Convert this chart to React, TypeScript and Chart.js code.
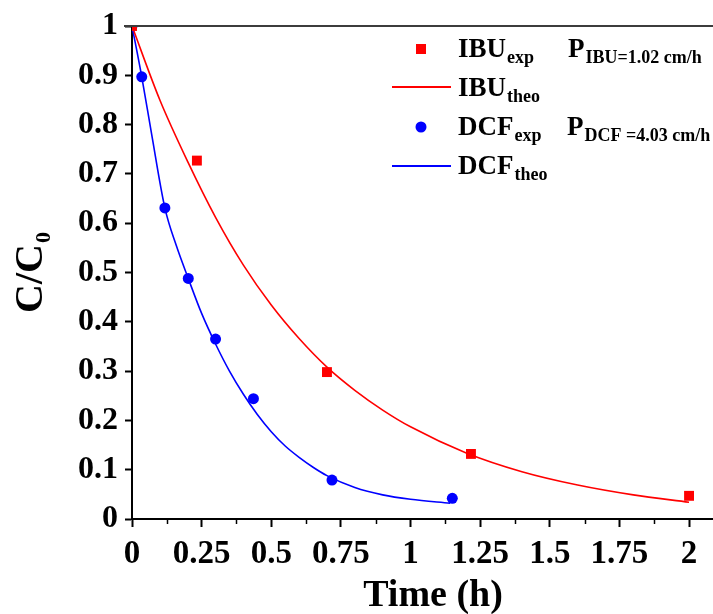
import React, { useEffect, useRef } from "react";
import { Chart, registerables } from "chart.js";

Chart.register(...registerables);

// Experimental data
const ibuExpX = [0, 0.233, 0.7, 1.217, 2.0];
const ibuExpY = [1, 0.727, 0.298, 0.132, 0.047];
const dcfExpX = [0, 0.035, 0.118, 0.202, 0.3, 0.436, 0.718, 1.15];
const dcfExpY = [1, 0.897, 0.631, 0.488, 0.365, 0.244, 0.079, 0.042];

// Theoretical curves
const ibuTheoX = [0, 0.1, 0.2, 0.3, 0.4, 0.5, 0.6, 0.7, 0.8, 0.9, 1.0, 1.2, 1.4, 1.6, 1.8, 2.0];
const ibuTheoY = [1, 0.85, 0.725, 0.612, 0.515, 0.434, 0.366, 0.308, 0.261, 0.221, 0.187, 0.134, 0.096, 0.069, 0.049, 0.034];
const dcfTheoX = [0, 0.035, 0.07, 0.118, 0.16, 0.202, 0.25, 0.3, 0.35, 0.4, 0.45, 0.5, 0.55, 0.6, 0.65, 0.7, 0.8, 0.9, 1.0, 1.142];
const dcfTheoY = [1, 0.897, 0.782, 0.631, 0.553, 0.488, 0.417, 0.355, 0.3, 0.253, 0.212, 0.177, 0.148, 0.125, 0.105, 0.088, 0.064, 0.049, 0.04, 0.032];

// Axis settings
const xMin = 0;
const xMax = 2.086;
const xStep = 0.25;
const yMin = 0;
const yMax = 1;
const yStep = 0.1;

const SERIF = '"Liberation Serif", "Times New Roman", serif';

function pts(xs: number[], ys: number[]) {
  return xs.map((x, i) => ({ x, y: ys[i] }));
}

function drawSub(
  ctx: CanvasRenderingContext2D,
  x: number,
  y: number,
  main: string,
  sub: string,
  mainSize: number,
  subSize: number,
  subDrop: number
) {
  ctx.textAlign = "left";
  ctx.textBaseline = "alphabetic";
  ctx.font = `bold ${mainSize}px ${SERIF}`;
  ctx.fillText(main, x, y);
  const w = ctx.measureText(main).width;
  ctx.font = `bold ${subSize}px ${SERIF}`;
  ctx.fillText(sub, x + w + 1, y + subDrop);
}

const decorPlugin = {
  id: "decor",
  afterDraw(chart: any) {
    const ctx: CanvasRenderingContext2D = chart.ctx;
    const { left, top, bottom } = chart.chartArea;
    const xs = chart.scales.x;
    ctx.save();
    // top frame line
    ctx.strokeStyle = "#3c3c3c";
    ctx.lineWidth = 2;
    ctx.beginPath();
    ctx.moveTo(left - 8, top);
    ctx.lineTo(chart.width, top);
    ctx.stroke();
    // minor x ticks
    ctx.strokeStyle = "#000";
    ctx.lineWidth = 1.5;
    for (let v = xStep / 2; v < xMax; v += xStep) {
      const px = Math.round(xs.getPixelForValue(v)) + 0.5;
      ctx.beginPath();
      ctx.moveTo(px, bottom);
      ctx.lineTo(px, bottom + 5);
      ctx.stroke();
    }
    // axis titles
    ctx.fillStyle = "#000";
    ctx.font = `bold 38px ${SERIF}`;
    ctx.textAlign = "center";
    ctx.textBaseline = "alphabetic";
    ctx.fillText("Time (h)", 433, 606);

    ctx.save();
    ctx.translate(42, 273);
    ctx.rotate(-Math.PI / 2);
    ctx.font = `bold 40px ${SERIF}`;
    const mw = ctx.measureText("C/C").width;
    ctx.font = `bold 22px ${SERIF}`;
    const sw = ctx.measureText("0").width;
    drawSub(ctx, -(mw + sw) / 2, 0, "C/C", "0", 40, 22, 8);
    ctx.restore();

    // legend
    ctx.fillStyle = "#ff0000";
    ctx.fillRect(416, 44, 10, 10);
    ctx.strokeStyle = "#ff0000";
    ctx.lineWidth = 2;
    ctx.beginPath();
    ctx.moveTo(392, 87);
    ctx.lineTo(451, 87);
    ctx.stroke();
    ctx.fillStyle = "#0000ff";
    ctx.beginPath();
    ctx.arc(421, 127, 5.5, 0, Math.PI * 2);
    ctx.fill();
    ctx.strokeStyle = "#0000ff";
    ctx.beginPath();
    ctx.moveTo(392, 166);
    ctx.lineTo(451, 166);
    ctx.stroke();

    ctx.fillStyle = "#000";
    drawSub(ctx, 458, 57, "IBU", "exp", 27, 18, 6);
    drawSub(ctx, 568, 57, "P", "IBU=1.02 cm/h", 27, 18, 6);
    drawSub(ctx, 458, 96, "IBU", "theo", 27, 18, 6);
    drawSub(ctx, 458, 135, "DCF", "exp", 27, 18, 6);
    drawSub(ctx, 567, 135, "P", "DCF =4.03 cm/h", 27, 18, 6);
    drawSub(ctx, 458, 174, "DCF", "theo", 27, 18, 6);
    ctx.restore();
  },
};

export default function App() {
  const ref = useRef<HTMLCanvasElement | null>(null);
  useEffect(() => {
    document.body.style.margin = "0";
    const canvas = ref.current!;
    const chart = new Chart(canvas, {
      type: "scatter",
      data: {
        datasets: [
          {
            label: "IBUexp",
            data: pts(ibuExpX, ibuExpY),
            showLine: false,
            pointStyle: "rect",
            pointRadius: 7,
            backgroundColor: "#ff0000",
            borderColor: "#ff0000",
            borderWidth: 0,
            order: 1,
          },
          {
            label: "IBUtheo",
            data: pts(ibuTheoX, ibuTheoY),
            showLine: true,
            pointRadius: 0,
            borderColor: "#ff0000",
            borderWidth: 1.6,
            cubicInterpolationMode: "monotone",
            order: 2,
          },
          {
            label: "DCFexp",
            data: pts(dcfExpX, dcfExpY),
            showLine: false,
            pointStyle: "circle",
            pointRadius: 5.5,
            backgroundColor: "#0000ff",
            borderColor: "#0000ff",
            borderWidth: 0,
            order: 1,
          },
          {
            label: "DCFtheo",
            data: pts(dcfTheoX, dcfTheoY),
            showLine: true,
            pointRadius: 0,
            borderColor: "#0000ff",
            borderWidth: 1.6,
            cubicInterpolationMode: "monotone",
            order: 2,
          },
        ],
      },
      options: {
        animation: false,
        responsive: false,
        devicePixelRatio: 1,
        layout: { autoPadding: false, padding: { top: 26, right: 0, left: 0, bottom: 0 } },
        plugins: { legend: { display: false }, tooltip: { enabled: false } },
        scales: {
          x: {
            type: "linear",
            min: xMin,
            max: xMax,
            afterFit: (s: any) => {
              s.height = 95;
              s.paddingRight = 0;
              s.paddingLeft = 0;
            },
            grid: {
              display: true,
              drawOnChartArea: false,
              drawTicks: true,
              tickLength: 8,
              tickWidth: 2,
              tickColor: "#000",
            },
            border: { display: true, color: "#000", width: 2 },
            ticks: {
              stepSize: xStep,
              includeBounds: false,
              autoSkip: false,
              maxRotation: 0,
              padding: 8,
              color: "#000",
              font: { family: SERIF, size: 33, weight: "bold" },
              callback: (v: any) => String(Math.round(Number(v) * 100) / 100),
            },
          },
          y: {
            type: "linear",
            min: yMin,
            max: yMax,
            afterFit: (s: any) => {
              s.width = 132;
              s.paddingTop = 0;
              s.paddingBottom = 0;
            },
            grid: {
              display: true,
              drawOnChartArea: false,
              drawTicks: true,
              tickLength: 7,
              tickWidth: 2,
              tickColor: "#000",
            },
            border: { display: true, color: "#000", width: 2 },
            ticks: {
              stepSize: yStep,
              padding: 7,
              color: "#000",
              font: { family: SERIF, size: 32, weight: "bold" },
              callback: (v: any) => String(Math.round(Number(v) * 10) / 10),
            },
          },
        },
      },
      plugins: [decorPlugin],
    } as any);
    return () => chart.destroy();
  }, []);
  return (
    <div style={{ position: "absolute", left: 0, top: 0, width: 713, height: 614 }}>
      <canvas ref={ref} width={713} height={614} style={{ width: 713, height: 614, display: "block" }} />
    </div>
  );
}
